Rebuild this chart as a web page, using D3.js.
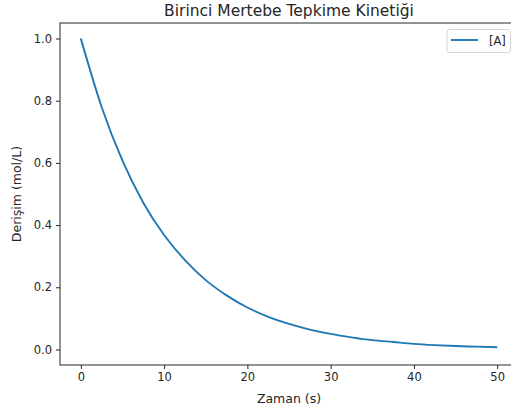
<!DOCTYPE html>
<html>
<head>
<meta charset="utf-8">
<script src="https://cdn.jsdelivr.net/npm/d3@7"></script>
<style>
  body { margin: 0; background: #fff; }
  text { font-family: "DejaVu Sans", sans-serif; fill: #262626; }
</style>
</head>
<body>
<div id="chart"></div>
<script>
// time points (s) and concentration [A]
var times = [0, 2.5, 5, 7.5, 10, 12.5, 15, 17.5, 20, 22.5, 25, 27.5, 30, 32.5, 35, 37.5, 40, 42.5, 45, 47.5, 50];
var concA = [1.0, 0.78, 0.607, 0.472, 0.368, 0.287, 0.223, 0.174, 0.135, 0.105, 0.082, 0.064, 0.05, 0.039, 0.03, 0.024, 0.018, 0.014, 0.011, 0.009, 0.007];
var xTicks = [0, 10, 20, 30, 40, 50];
var yTicks = [0.0, 0.2, 0.4, 0.6, 0.8, 1.0];
var seriesName = "[A]";

var W = 511, H = 409;
var margin = { top: 23, left: 60 };
var width = 458, height = 342;

var svg = d3.select("#chart").append("svg")
  .attr("width", W)
  .attr("height", H);

var g = svg.append("g")
  .attr("transform", "translate(" + margin.left + "," + margin.top + ")");

var x = d3.scaleLinear().domain([-2.5, 52.5]).range([0, width]);
var y = d3.scaleLinear().domain([-0.05, 1.05]).range([height, 0]);

var data = times.map(function (t, i) { return { t: t, v: concA[i] }; });

// axes
var xAxis = g.append("g")
  .attr("transform", "translate(0," + height + ")")
  .call(d3.axisBottom(x).tickValues(xTicks).tickSize(4).tickPadding(4).tickFormat(d3.format("d")));
var yAxis = g.append("g")
  .call(d3.axisLeft(y).tickValues(yTicks).tickSize(4).tickPadding(4).tickFormat(d3.format(".1f")));

[xAxis, yAxis].forEach(function (a) {
  a.select(".domain").remove();
  a.selectAll("line").attr("stroke", "#262626").attr("stroke-width", 1);
  a.selectAll("text").style("font-size", "11.5px").style("font-family", "DejaVu Sans").attr("fill", "#262626");
});

// frame
g.append("rect")
  .attr("width", width)
  .attr("height", height)
  .attr("fill", "none")
  .attr("stroke", "#262626")
  .attr("stroke-width", 1);

// curve
g.append("path")
  .datum(data)
  .attr("fill", "none")
  .attr("stroke", "#1f77b4")
  .attr("stroke-width", 1.9)
  .attr("d", d3.line()
    .curve(d3.curveMonotoneX)
    .x(function (d) { return x(d.t); })
    .y(function (d) { return y(d.v); }));

// title & labels
svg.append("text")
  .attr("x", margin.left + width / 2)
  .attr("y", 16)
  .attr("text-anchor", "middle")
  .style("font-size", "15.5px")
  .text("Birinci Mertebe Tepkime Kinetiği");

svg.append("text")
  .attr("x", margin.left + width / 2)
  .attr("y", 403)
  .attr("text-anchor", "middle")
  .style("font-size", "12.5px")
  .text("Zaman (s)");

svg.append("text")
  .attr("transform", "translate(21," + (margin.top + height / 2) + ") rotate(-90)")
  .attr("text-anchor", "middle")
  .style("font-size", "12.5px")
  .text("Derişim (mol/L)");

// legend
var leg = svg.append("g").attr("transform", "translate(447,29.5)");
leg.append("rect")
  .attr("width", 63.5)
  .attr("height", 23)
  .attr("rx", 2.5)
  .attr("fill", "#fff")
  .attr("fill-opacity", 0.8)
  .attr("stroke", "#d6d6d6")
  .attr("stroke-width", 1);
leg.append("line")
  .attr("x1", 4).attr("x2", 31)
  .attr("y1", 10.5).attr("y2", 10.5)
  .attr("stroke", "#1f77b4")
  .attr("stroke-width", 1.9);
leg.append("text")
  .attr("x", 42)
  .attr("y", 15)
  .style("font-size", "11.5px")
  .text(seriesName);
</script>
</body>
</html>
